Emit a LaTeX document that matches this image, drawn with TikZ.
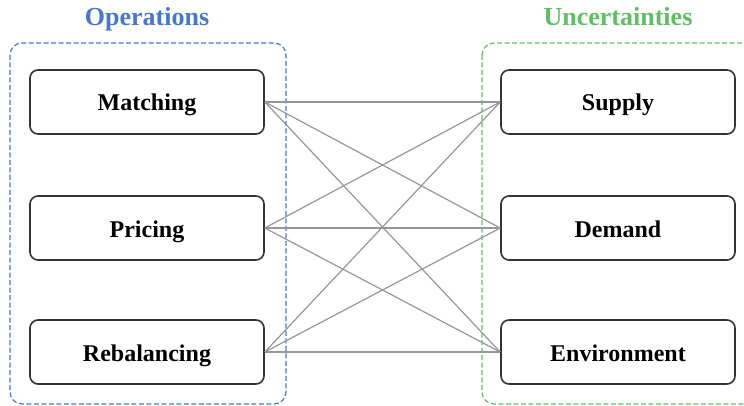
\documentclass[tikz,border=0pt]{standalone}
\usepackage{fontspec}
\setmainfont{Liberation Serif}
\definecolor{blaurahmen}{RGB}{70,120,205}
\definecolor{gruenrahmen}{RGB}{95,190,100}
\definecolor{linie}{RGB}{150,150,150}
\begin{document}
\begin{tikzpicture}[x=1pt,y=-1pt]
\tikzset{kasten/.style={draw=black!80,line width=1.6pt,rounded corners=8pt,fill=white,minimum width=234pt,minimum height=64pt,text height=18pt,text depth=0pt,font=\fontsize{24}{28}\selectfont\bfseries}}
\tikzset{titel/.style={text height=20pt,text depth=0pt,font=\fontsize{26}{30}\selectfont\bfseries}}
\tikzset{rahmen/.style={dash pattern=on 5pt off 2.5pt,line width=1.2pt,rounded corners=12pt}}
\useasboundingbox (0,0) rectangle (744,406);
\draw[rahmen,blaurahmen] (10,43) rectangle (286,404);
\draw[rahmen,gruenrahmen] (482,43) rectangle (760,404);
\node [titel,text=blaurahmen] (op) at (147,16) {Operations};
\node [titel,text=gruenrahmen] (un) at (618,16) {Uncertainties};
\node [kasten] (a) at (147,102) {Matching};
\node [kasten] (b) at (147,228) {Pricing};
\node [kasten] (c) at (147,352) {Rebalancing};
\node [kasten] (d) at (618,102) {Supply};
\node [kasten] (e) at (618,228) {Demand};
\node [kasten] (f) at (618,352) {Environment};
\draw[-,linie,line width=1.2pt] (a.east) to (d.west);
\draw[-,linie,line width=1.2pt] (a.east) to (e.west);
\draw[-,linie,line width=1.2pt] (a.east) to (f.west);
\draw[-,linie,line width=1.2pt] (b.east) to (d.west);
\draw[-,linie,line width=1.2pt] (b.east) to (e.west);
\draw[-,linie,line width=1.2pt] (b.east) to (f.west);
\draw[-,linie,line width=1.2pt] (c.east) to (d.west);
\draw[-,linie,line width=1.2pt] (c.east) to (e.west);
\draw[-,linie,line width=1.2pt] (c.east) to (f.west);
\end{tikzpicture}
\end{document}
